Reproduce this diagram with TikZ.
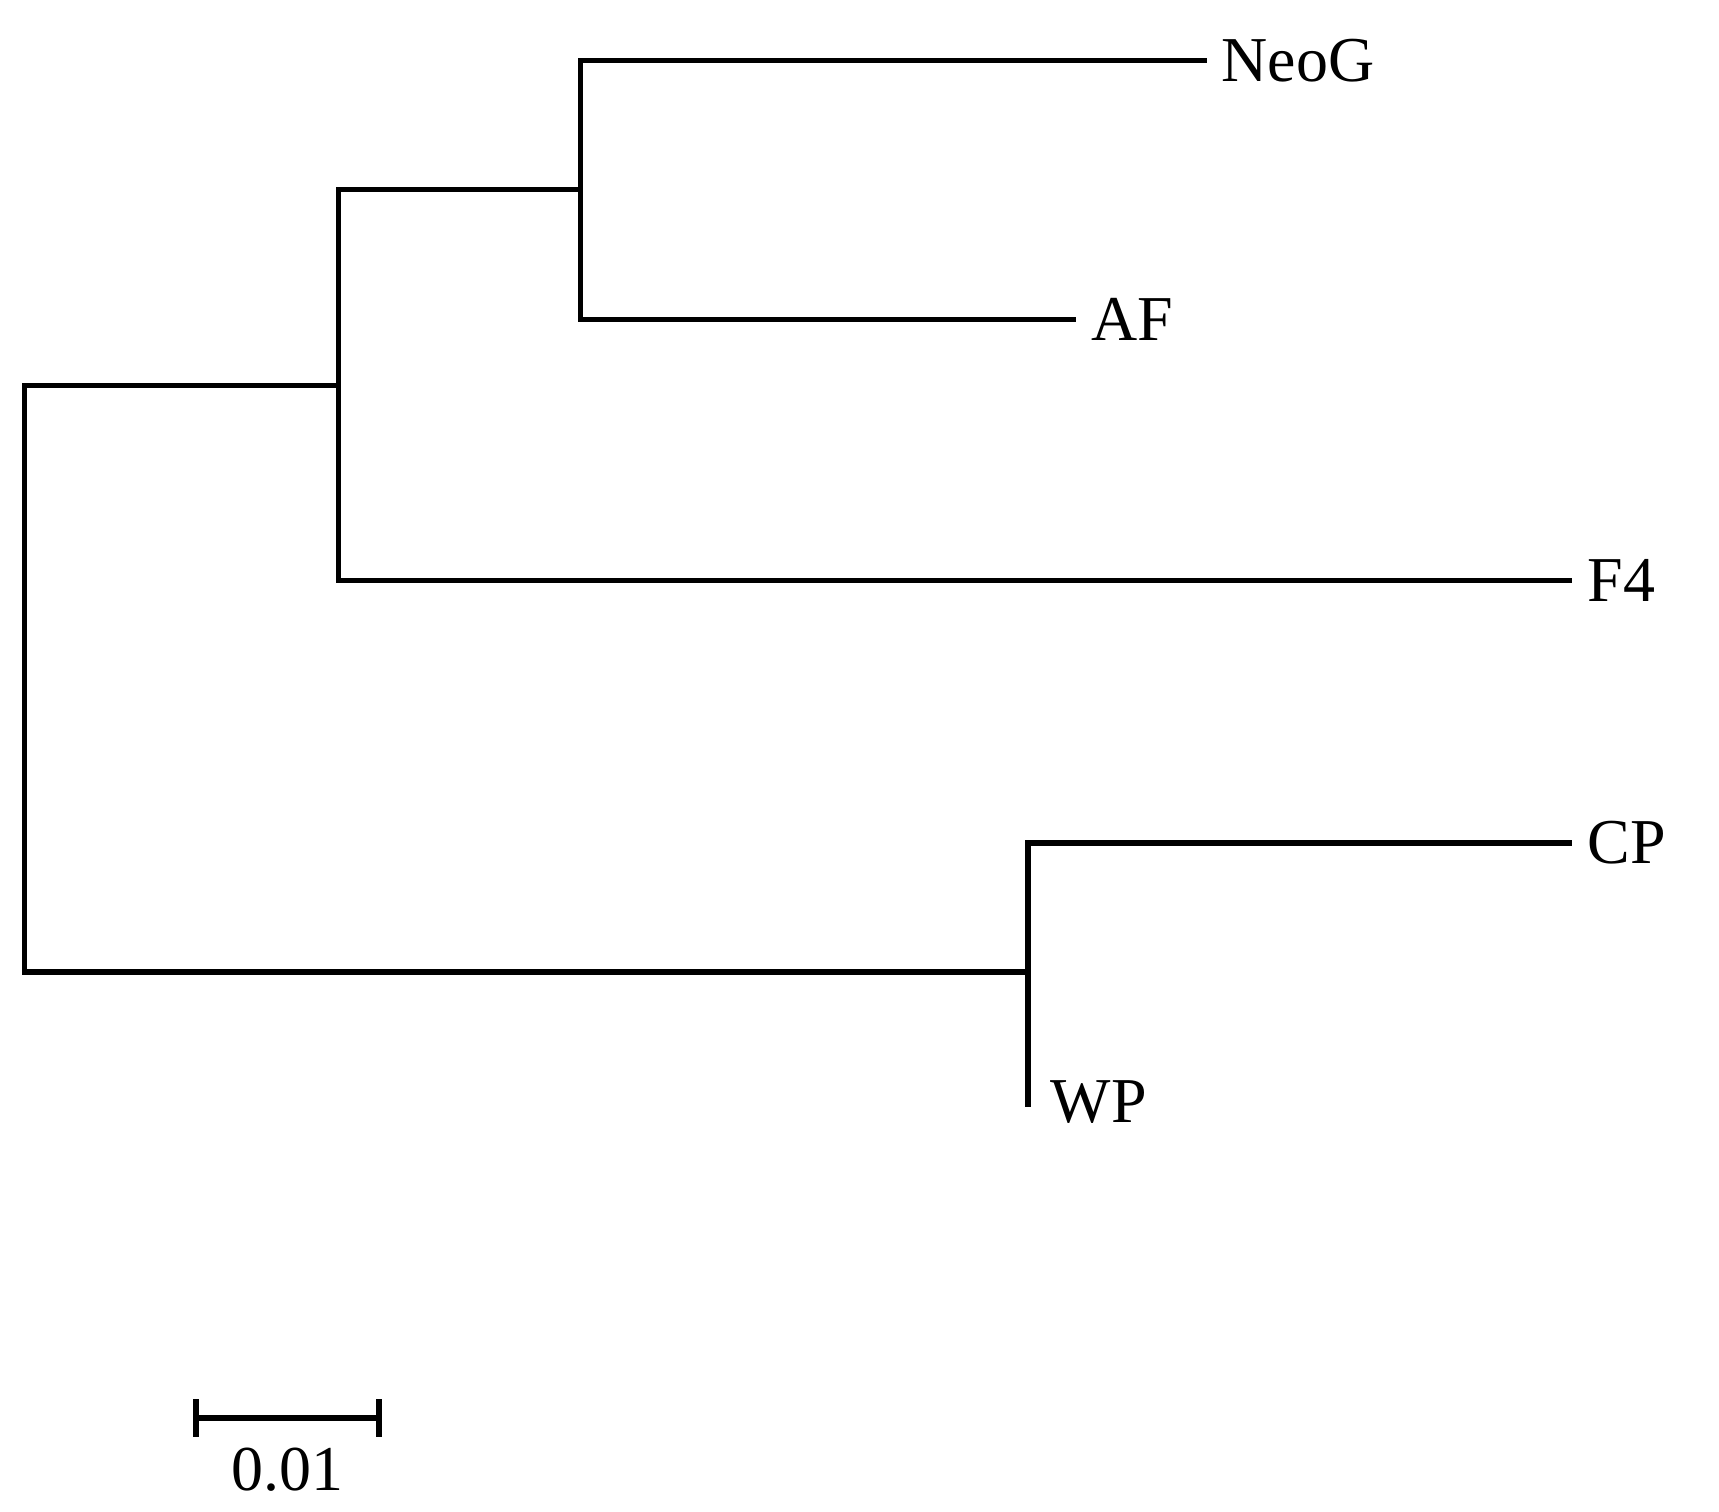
\documentclass[tikz,border=0pt]{standalone}
\usepackage{fontspec}
\setmainfont{Liberation Serif}
\begin{document}
\begin{tikzpicture}[x=0.01cm,y=-0.01cm,
  br/.style={line width=1.4pt,line cap=rect},
  lab/.style={anchor=west,inner sep=0pt,font=\fontsize{16.5}{20}\selectfont}]
\useasboundingbox (0,0) rectangle (1560,1372);
\coordinate (r1) at (22,350); \coordinate (r2) at (22,882);
\coordinate (a) at (307,350); \coordinate (a1) at (307,172); \coordinate (a2) at (307,527);
\coordinate (b) at (527,172); \coordinate (b1) at (527,55); \coordinate (b2) at (527,290);
\coordinate (c) at (933,882); \coordinate (c1) at (933,765); \coordinate (c2) at (933,1002);
\coordinate (neog) at (1093,55); \coordinate (af) at (974,290);
\coordinate (f4) at (1424,527); \coordinate (cp) at (1424,765);
\draw[br] (a) -- (r1) -- (r2) -- (c);
\draw[br] (b) -- (a1) -- (a2) -- (f4);
\draw[br] (neog) -- (b1) -- (b2) -- (af);
\draw[br] (cp) -- (c1) -- (c2);
\node[lab] at (1108,55) {NeoG};
\node[lab] at (990,290) {AF};
\node[lab] at (1440,527) {F4};
\node[lab] at (1440,765) {CP};
\node[lab] at (953,1000) {WP};
\coordinate (s1) at (178,1287); \coordinate (s2) at (344,1287);
\draw[br] (s1) -- (s2);
\draw[br] (178,1272) -- (178,1302);
\draw[br] (344,1272) -- (344,1302);
\node[font=\fontsize{16.5}{20}\selectfont] at (261,1334) {0.01};
\end{tikzpicture}
\end{document}
